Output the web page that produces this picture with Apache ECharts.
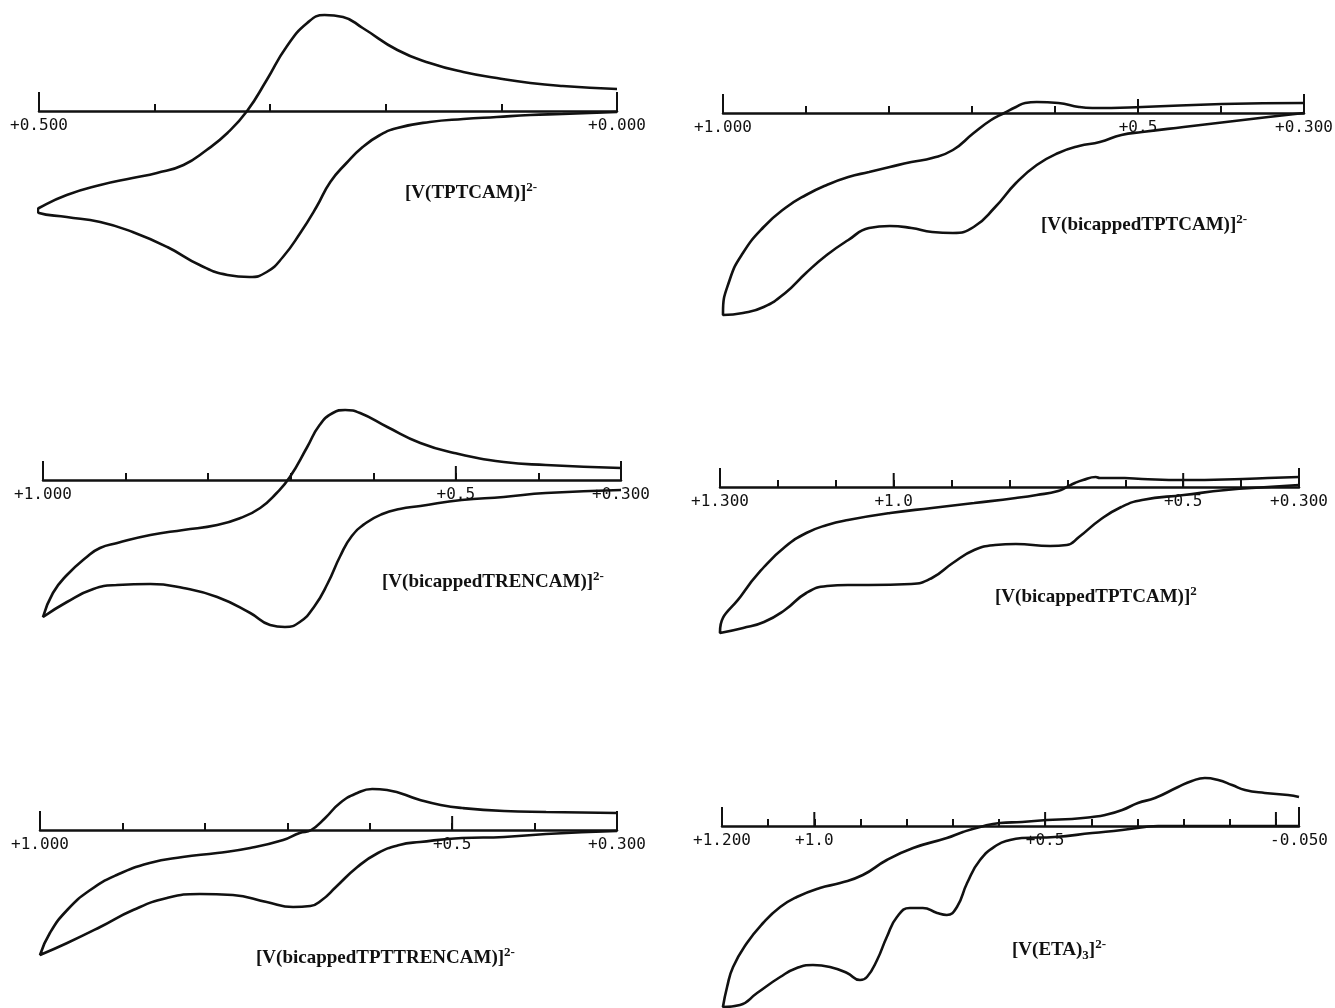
<!DOCTYPE html>
<html>
<head>
<meta charset="utf-8">
<title>Cyclic voltammograms</title>
<script src="https://cdn.jsdelivr.net/npm/echarts@6/dist/echarts.min.js"></script>
<style>
  html, body { margin: 0; padding: 0; background: #fff; }
  #chart { width: 1335px; height: 1008px; }
</style>
</head>
<body>
<div id="chart"></div>
<script>
// potential E (V), current in arbitrary units (up = anodic)
// every branch is listed from the most positive potential (left) to the right end

// [V(TPTCAM)]2-
var tptcamUpper = [[0.500,-97],[0.476,-84],[0.447,-74],[0.419,-67],[0.398,-62],[0.375,-54],[0.355,-39],[0.337,-22],[0.320,0],[0.303,31],[0.286,64],[0.268,88],[0.253,96],[0.237,94],[0.220,83],[0.190,61],[0.162,48],[0.133,39],[0.104,33],[0.075,28],[0.047,25],[0.000,22]];
var tptcamLower = [[0.501,-99],[0.500,-102],[0.476,-106],[0.447,-111],[0.419,-121],[0.389,-136],[0.361,-154],[0.337,-164],[0.318,-166],[0.303,-161],[0.289,-146],[0.274,-122],[0.260,-96],[0.248,-71],[0.234,-52],[0.220,-36],[0.205,-24],[0.190,-17],[0.162,-11],[0.133,-8],[0.104,-6],[0.075,-4],[0.047,-3],[0.000,-1]];

// [V(bicappedTPTCAM)]2-  (top right)
var bicTptUpper = [[1.000,-200],[0.992,-167],[0.976,-140],[0.951,-114],[0.925,-95],[0.900,-82],[0.875,-72],[0.849,-64],[0.824,-59],[0.799,-54],[0.773,-49],[0.748,-45],[0.723,-37],[0.698,-20],[0.677,-7],[0.661,0],[0.647,6],[0.636,10],[0.622,11],[0.596,10],[0.571,6],[0.555,5],[0.495,6],[0.399,9],[0.300,10]];
var bicTptLower = [[1.000,-202],[0.976,-200],[0.951,-194],[0.925,-180],[0.900,-160],[0.875,-142],[0.849,-127],[0.824,-115],[0.799,-113],[0.773,-115],[0.748,-119],[0.723,-120],[0.698,-114],[0.672,-94],[0.647,-70],[0.622,-52],[0.596,-40],[0.571,-33],[0.546,-29],[0.520,-22],[0.495,-19],[0.445,-14],[0.394,-9],[0.343,-4],[0.300,0]];

// [V(bicappedTRENCAM)]2-
var bicTrenUpper = [[1.000,-137],[0.988,-113],[0.971,-95],[0.947,-77],[0.931,-68],[0.910,-63],[0.870,-55],[0.830,-50],[0.789,-45],[0.761,-38],[0.737,-28],[0.717,-13],[0.701,3],[0.680,33],[0.665,55],[0.649,67],[0.634,70],[0.616,67],[0.583,53],[0.543,37],[0.502,27],[0.442,18],[0.391,15],[0.300,12]];
var bicTrenLower = [[1.000,-137],[0.971,-122],[0.939,-109],[0.910,-105],[0.870,-104],[0.830,-108],[0.789,-117],[0.749,-133],[0.725,-145],[0.707,-147],[0.689,-142],[0.671,-126],[0.655,-103],[0.640,-76],[0.626,-56],[0.609,-43],[0.589,-34],[0.568,-29],[0.543,-26],[0.493,-20],[0.442,-17],[0.391,-13],[0.300,-10]];

// [V(bicappedTPTCAM)]2  (middle right, wider window)
var bicTpt2Upper = [[1.300,-145],[1.260,-106],[1.224,-80],[1.188,-60],[1.151,-46],[1.115,-38],[1.079,-33],[1.006,-26],[0.934,-21],[0.861,-16],[0.789,-11],[0.753,-8],[0.716,-4],[0.701,0],[0.687,4],[0.673,7],[0.651,10],[0.644,9],[0.601,9],[0.571,8],[0.499,7],[0.397,8],[0.354,9],[0.300,10]];
var bicTpt2Lower = [[1.300,-146],[1.260,-141],[1.224,-135],[1.188,-123],[1.151,-106],[1.115,-99],[1.079,-98],[1.043,-98],[0.970,-97],[0.934,-91],[0.898,-76],[0.861,-63],[0.825,-58],[0.789,-57],[0.730,-59],[0.701,-58],[0.680,-50],[0.644,-33],[0.607,-20],[0.571,-13],[0.499,-8],[0.426,-3],[0.354,0],[0.300,2]];

// [V(bicappedTPTTRENCAM)]2-
var bicTptTrenUpper = [[1.000,-125],[0.988,-103],[0.967,-80],[0.939,-60],[0.907,-45],[0.867,-33],[0.827,-27],[0.785,-23],[0.745,-18],[0.705,-10],[0.685,-3],[0.671,0],[0.654,12],[0.636,27],[0.615,37],[0.597,41],[0.579,40],[0.539,30],[0.514,25],[0.488,22],[0.437,19],[0.386,18],[0.300,17]];
var bicTptTrenLower = [[1.000,-125],[0.967,-113],[0.927,-97],[0.887,-80],[0.846,-68],[0.806,-64],[0.766,-65],[0.725,-72],[0.693,-77],[0.672,-76],[0.658,-70],[0.641,-57],[0.615,-37],[0.590,-23],[0.564,-15],[0.539,-12],[0.488,-8],[0.437,-7],[0.386,-4],[0.300,-1]];

// [V(ETA)3]2-
var etaUpper = [[1.198,-181],[1.189,-161],[1.176,-141],[1.146,-117],[1.111,-97],[1.074,-81],[1.038,-71],[0.988,-62],[0.944,-57],[0.895,-49],[0.843,-34],[0.786,-22],[0.713,-12],[0.678,-6],[0.641,-1],[0.598,3],[0.550,4],[0.496,6],[0.442,7],[0.398,9],[0.370,11],[0.333,16],[0.299,23],[0.262,28],[0.212,39],[0.182,45],[0.154,48],[0.125,46],[0.095,41],[0.067,36],[0.024,33],[-0.026,31],[-0.050,29]];
var etaLower = [[1.198,-181],[1.161,-179],[1.124,-167],[1.074,-151],[1.038,-142],[1.003,-139],[0.966,-141],[0.929,-147],[0.901,-154],[0.886,-151],[0.864,-134],[0.843,-111],[0.821,-91],[0.793,-82],[0.765,-82],[0.734,-87],[0.713,-89],[0.691,-81],[0.669,-57],[0.641,-34],[0.604,-19],[0.576,-14],[0.550,-12],[0.479,-11],[0.398,-7],[0.333,-4],[0.284,-1],[0.255,0],[-0.050,0]];

// axis ranges, ticks and labels
var range1 = [0.0, 0.5], ticks1 = [0.5,0.4,0.3,0.2,0.1,0.0], caps1 = [0.5,0.0], major1 = [];
var labelAt1 = [0.5, 0.0], labels1 = ['+0.500', '+0.000'];
var range2 = [0.3, 1.0], ticks2 = [1.0,0.9,0.8,0.7,0.6,0.5,0.4,0.3], caps2 = [1.0,0.3], major2 = [0.5];
var labelAt2 = [1.0, 0.5, 0.3], labels2 = ['+1.000', '+0.5', '+0.300'];
var range4 = [0.3, 1.3], ticks4 = [1.3,1.2,1.1,1.0,0.9,0.8,0.7,0.6,0.5,0.4,0.3], caps4 = [1.3,0.3], major4 = [1.0,0.5];
var labelAt4 = [1.3, 1.0, 0.5, 0.3], labels4 = ['+1.300', '+1.0', '+0.5', '+0.300'];
var range6 = [-0.05, 1.2], ticks6 = [1.2,1.1,1.0,0.9,0.8,0.7,0.6,0.5,0.4,0.3,0.2,0.1,0.0,-0.05], caps6 = [1.2,-0.05], major6 = [1.0,0.5,0.0];
var labelAt6 = [1.2, 1.0, 0.5, -0.05], labels6 = ['+1.200', '+1.0', '+0.5', '-0.050'];

var titles = [
  '{m|[V(TPTCAM)]}{s|2-}',
  '{m|[V(bicappedTPTCAM)]}{s|2-}',
  '{m|[V(bicappedTRENCAM)]}{s|2-}',
  '{m|[V(bicappedTPTCAM)]}{s|2}',
  '{m|[V(bicappedTPTTRENCAM)]}{s|2-}',
  '{m|[V(ETA)}{b|3}{m|]}{s|2-}'
];

var panels = [
  {upper: tptcamUpper, lower: tptcamLower, range: range1, ticks: ticks1, caps: caps1, major: major1, labelAt: labelAt1, labels: labels1},
  {upper: bicTptUpper, lower: bicTptLower, range: range2, ticks: ticks2, caps: caps2, major: major2, labelAt: labelAt2, labels: labels2},
  {upper: bicTrenUpper, lower: bicTrenLower, range: range2, ticks: ticks2, caps: caps2, major: major2, labelAt: labelAt2, labels: labels2},
  {upper: bicTpt2Upper, lower: bicTpt2Lower, range: range4, ticks: ticks4, caps: caps4, major: major4, labelAt: labelAt4, labels: labels4},
  {upper: bicTptTrenUpper, lower: bicTptTrenLower, range: range2, ticks: ticks2, caps: caps2, major: major2, labelAt: labelAt2, labels: labels2},
  {upper: etaUpper, lower: etaLower, range: range6, ticks: ticks6, caps: caps6, major: major6, labelAt: labelAt6, labels: labels6}
];

// page placement of each panel (px): the grid spans the space above the zero line
var layout = [
  {left: 39,  width: 578, axisY: 111, tx: 405,  ty: 193},
  {left: 723, width: 581, axisY: 113, tx: 1041, ty: 225},
  {left: 43,  width: 578, axisY: 480, tx: 382,  ty: 582},
  {left: 720, width: 579, axisY: 487, tx: 995,  ty: 597},
  {left: 40,  width: 577, axisY: 830, tx: 256,  ty: 958},
  {left: 722, width: 577, axisY: 826, tx: 1012, ty: 950}
];

var ABOVE = 110;
var INK = '#111';

function tickSeries(k, values, len) {
  return {
    type: 'custom',
    xAxisIndex: k, yAxisIndex: k,
    silent: true, clip: false,
    data: values.map(function (v) { return [v, 0]; }),
    renderItem: function (params, api) {
      var p = api.coord([api.value(0), 0]);
      return {
        type: 'line',
        shape: {x1: p[0], y1: p[1], x2: p[0], y2: p[1] - len},
        style: {stroke: INK, lineWidth: 2}
      };
    }
  };
}

var grid = [], xAxis = [], yAxis = [], series = [], graphic = [];

panels.forEach(function (pn, k) {
  var lay = layout[k];
  grid.push({
    left: lay.left, width: lay.width,
    top: lay.axisY - ABOVE, height: ABOVE,
    containLabel: false, outerBoundsMode: 'none'
  });
  xAxis.push({
    gridIndex: k, type: 'value', inverse: true,
    min: pn.range[0], max: pn.range[1],
    splitLine: {show: false},
    axisLine: {onZero: false, lineStyle: {color: INK, width: 2.5}},
    axisTick: {inside: true, length: 7, customValues: pn.ticks, lineStyle: {color: INK, width: 2}},
    axisLabel: {
      customValues: pn.labelAt,
      showMinLabel: true, showMaxLabel: true, hideOverlap: false,
      margin: 7, color: INK,
      fontFamily: 'DejaVu Sans Mono', fontSize: 16,
      formatter: function (v) {
        for (var i = 0; i < pn.labelAt.length; i++) {
          if (Math.abs(v - pn.labelAt[i]) < 1e-6) return pn.labels[i];
        }
        return '';
      }
    }
  });
  // one unit of current = one pixel; negative currents fall below the grid (clip off)
  yAxis.push({gridIndex: k, type: 'value', min: 0, max: ABOVE, show: false});

  series.push({
    type: 'line',
    xAxisIndex: k, yAxisIndex: k,
    data: pn.lower.slice().reverse().concat(pn.upper),
    showSymbol: false, smooth: 0.5, clip: false,
    lineStyle: {color: INK, width: 2.6},
    silent: true
  });
  series.push(tickSeries(k, pn.caps, 19));
  if (pn.major.length) series.push(tickSeries(k, pn.major, 14));

  graphic.push({
    type: 'text', left: lay.tx, top: lay.ty - 12, silent: true,
    style: {
      text: titles[k],
      fill: INK,
      rich: {
        m: {fontFamily: 'Liberation Serif', fontWeight: 'bold', fontSize: 19, lineHeight: 24, fill: INK},
        s: {fontFamily: 'Liberation Serif', fontWeight: 'bold', fontSize: 13, lineHeight: 14, verticalAlign: 'top', fill: INK},
        b: {fontFamily: 'Liberation Serif', fontWeight: 'bold', fontSize: 13, lineHeight: 14, verticalAlign: 'bottom', fill: INK}
      }
    }
  });
});

var myChart = echarts.init(document.getElementById('chart'));
myChart.setOption({
  animation: false,
  backgroundColor: '#fff',
  grid: grid,
  xAxis: xAxis,
  yAxis: yAxis,
  series: series,
  graphic: graphic
});
</script>
</body>
</html>
